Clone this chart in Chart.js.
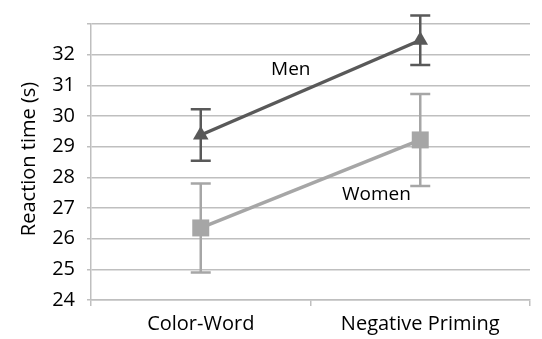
<!DOCTYPE html>
<html>
<head>
<meta charset="utf-8">
<script src="https://cdn.jsdelivr.net/npm/chart.js@4.4.1/dist/chart.umd.min.js"></script>
<style>
  body { margin: 0; background: #fff; }
</style>
</head>
<body>
<canvas id="myChart" width="542" height="339"></canvas>
<script>
var categories = ["Color-Word", "Negative Priming"]
var men = [29.38, 32.47]
var menErr = [0.84, 0.81]
var women = [26.35, 29.22]
var womenErr = [1.45, 1.5]
var yTicks = [24, 25, 26, 27, 28, 29, 30, 31, 32]

var menColor = "#595959"
var womenColor = "#a6a6a6"
var gridColor = "#bfbfbf"
var font = "'Open Sans', sans-serif"

// error bars + series names, drawn through the scales
var errorBars = {
    id: "errorBars",
    beforeDatasetsDraw(chart) {
        const ctx = chart.ctx
        const xs = chart.scales.x
        const ys = chart.scales.y
        chart.data.datasets.forEach(ds => {
            ctx.save()
            ctx.strokeStyle = ds.borderColor
            ctx.lineWidth = 2.5
            ds.data.forEach((v, i) => {
                let x = xs.getPixelForValue(i)
                let top = ys.getPixelForValue(v + ds.err[i])
                let bot = ys.getPixelForValue(v - ds.err[i])
                ctx.beginPath()
                ctx.moveTo(x, top); ctx.lineTo(x, bot)
                ctx.moveTo(x - 10, top); ctx.lineTo(x + 10, top)
                ctx.moveTo(x - 10, bot); ctx.lineTo(x + 10, bot)
                ctx.stroke()
            })
            ctx.restore()
        })
    },
    afterDatasetsDraw(chart) {
        const ctx = chart.ctx
        const xs = chart.scales.x
        const ys = chart.scales.y
        ctx.save()
        ctx.fillStyle = "#000"
        ctx.font = "19px " + font
        ctx.textAlign = "center"
        ctx.textBaseline = "middle"
        ctx.fillText("Men", xs.getPixelForValue(0.41), ys.getPixelForValue(31.5))
        ctx.fillText("Women", xs.getPixelForValue(0.8), ys.getPixelForValue(27.45))
        // y axis title, sits a bit below the middle like the original
        ctx.translate(29, ys.getPixelForValue(28.6))
        ctx.rotate(-Math.PI / 2)
        ctx.font = "20px " + font
        ctx.fillText("Reaction time (s)", 0, 0)
        ctx.restore()
    }
}

const ctx = document.getElementById("myChart")
var chart = new Chart(ctx, {
    type: "line",
    data: {
        labels: categories,
        datasets: [{
            label: "Men",
            data: men,
            err: menErr,
            borderColor: menColor,
            backgroundColor: menColor,
            borderWidth: 3.5,
            pointStyle: "triangle",
            pointRadius: 9,
            pointBorderWidth: 0
        },
        {
            label: "Women",
            data: women,
            err: womenErr,
            borderColor: womenColor,
            backgroundColor: womenColor,
            borderWidth: 3.5,
            pointStyle: "rect",
            pointRadius: 12,
            pointBorderWidth: 0
        }]
    },
    options: {
        responsive: false,
        animation: false,
        layout: { padding: { top: 22, right: 0, left: 0, bottom: 0 } },
        plugins: { legend: { display: false }, tooltip: { enabled: false } },
        scales: {
            x: {
                offset: true,
                grid: { offset: true, drawOnChartArea: false, color: gridColor, lineWidth: 1.5, tickLength: 6 },
                border: { color: gridColor, width: 1.5 },
                ticks: { color: "#000", font: { family: font, size: 20 }, padding: 6 },
                afterFit(s) { s.height = 39 }
            },
            y: {
                min: 24,
                max: 33,
                afterBuildTicks(s) {
                    s.ticks = yTicks.concat([33]).map(v => ({ value: v }))
                },
                grid: { color: gridColor, lineWidth: 1.5, tickLength: 4 },
                border: { color: gridColor, width: 1.5 },
                ticks: {
                    color: "#000",
                    font: { family: font, size: 20 },
                    padding: 12,
                    callback: v => yTicks.includes(v) ? v : ""
                },
                afterFit(s) { s.width = 91 }
            }
        }
    },
    plugins: [errorBars]
})
</script>
</body>
</html>
